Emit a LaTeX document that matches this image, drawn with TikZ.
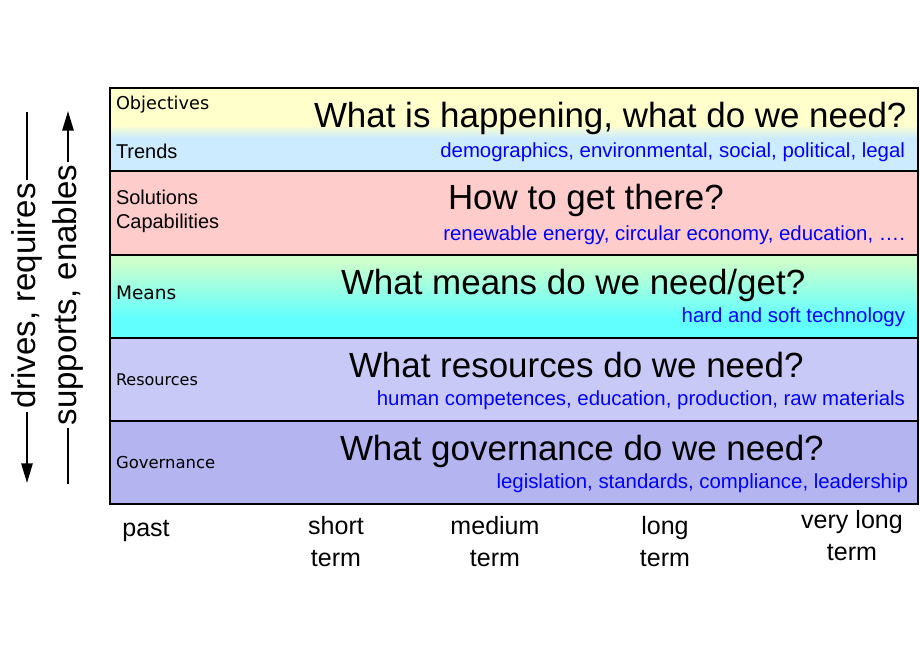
\documentclass[tikz,border=0pt]{standalone}
\usepackage{fontspec}
\setmainfont{Liberation Sans}
\newfontfamily\dejavu{DejaVu Sans}
\usetikzlibrary{arrows.meta, positioning}
\definecolor{bandyellow}{HTML}{FFFFCC}
\definecolor{bandblue}{HTML}{CCEBFF}
\definecolor{bandpink}{HTML}{FFCCCC}
\definecolor{bandgreen}{HTML}{CCFFCC}
\definecolor{bandcyan}{HTML}{62FFFF}
\definecolor{bandlilac}{HTML}{C9C9F8}
\definecolor{bandviolet}{HTML}{B4B4F0}
\definecolor{hintblue}{HTML}{0000FF}

\begin{document}
\begin{tikzpicture}[
    x=0.025cm, y=-0.025cm,
    every node/.style={inner sep=0pt, outer sep=0pt},
    question/.style={anchor=base west, font=\fontsize{24.85}{29}\selectfont},
    hint/.style={anchor=base east, text=hintblue, font=\fontsize{14.5}{17}\selectfont},
    layer/.style={anchor=base west, font=\fontsize{14.2}{17}\selectfont},
    softlayer/.style={anchor=base west, font=\dejavu\fontsize{#1}{15}\selectfont},
    horizon/.style={align=center, font=\fontsize{17.8}{22.8}\selectfont},
    flow/.style={rotate=90, inner sep=2pt, font=\fontsize{23.5}{28}\selectfont},
    flowline/.style={line width=1.5pt},
    divider/.style={line width=2.1pt}
]
    \useasboundingbox (0,0) rectangle (920,660);

    % Bands
    \fill[bandyellow] (110,88) rectangle (918,125);
    \shade[top color=bandyellow, bottom color=bandblue] (110,125) rectangle (918,138);
    \fill[bandblue] (110,138) rectangle (918,171);
    \fill[bandpink] (110,171) rectangle (918,255);
    \fill[bandgreen] (110,255) rectangle (918,262);
    \shade[top color=bandgreen, bottom color=bandcyan] (110,262) rectangle (918,318);
    \fill[bandcyan] (110,318) rectangle (918,338);
    \fill[bandlilac] (110,338) rectangle (918,421);
    \fill[bandviolet] (110,421) rectangle (918,504);

    % Frame and dividers
    \foreach \y in {171,255,338,421}
        \draw[divider] (110,\y) -- (918,\y);
    \draw[divider] (110,88) rectangle (918,504);

    % Layer names
    \node[softlayer=12.6] (objectives) at (116,109) {Objectives};
    \node[layer] (trends) at (116,158) {Trends};
    \node[layer] (solutions) at (116,204) {Solutions};
    \node[layer] (capabilities) at (116,228) {Capabilities};
    \node[softlayer=13.2] (means) at (116,299) {Means};
    \node[softlayer=11.4] (resources) at (116,385) {Resources};
    \node[softlayer=11.7] (governance) at (116,468) {Governance};

    % Questions
    \node[question] (qtrends) at (314,127) {What is happening, what do we need?};
    \node[question] (qsolutions) at (448,209) {How to get there?};
    \node[question] (qmeans) at (341,294) {What means do we need/get?};
    \node[question] (qresources) at (349,377) {What resources do we need?};
    \node[question] (qgovernance) at (340,460) {What governance do we need?};

    % Examples
    \node[hint] (htrends) at (905,157) {demographics, environmental, social, political, legal};
    \node[hint] (hsolutions) at (905,240) {renewable energy, circular economy, education, ….};
    \node[hint] (hmeans) at (905,322) {hard and soft technology};
    \node[hint] (hresources) at (905,405) {human competences, education, production, raw materials};
    \node[hint] (hgovernance) at (908,488) {legislation, standards, compliance, leadership};

    % Time horizons
    \node[horizon, anchor=base] (past) at (146,536) {past};
    \node[horizon] (short) at (336,542) {short\\term};
    \node[horizon] (medium) at (495,542) {medium\\term};
    \node[horizon] (long) at (665,542) {long\\term};
    \node[horizon] (verylong) at (852,536) {very long\\term};

    % Dependency arrows
    \node[flow] (drives) at (27,296) {drives, requires};
    \node[flow] (supports) at (68,295) {supports, enables};
    \coordinate (drivesTop) at (27,112);
    \coordinate (drivesTip) at (27,483);
    \coordinate (supportsTip) at (68,111);
    \coordinate (supportsEnd) at (68,484);
    \draw[flowline] (drives.east) -- (drivesTop);
    \draw[flowline, -{Triangle[length=14pt, width=8pt]}] (drives.west) -- (drivesTip);
    \draw[flowline, -{Triangle[length=14pt, width=8pt]}] (supports.east) -- (supportsTip);
    \draw[flowline] (supports.west) -- (supportsEnd);
\end{tikzpicture}
\end{document}
